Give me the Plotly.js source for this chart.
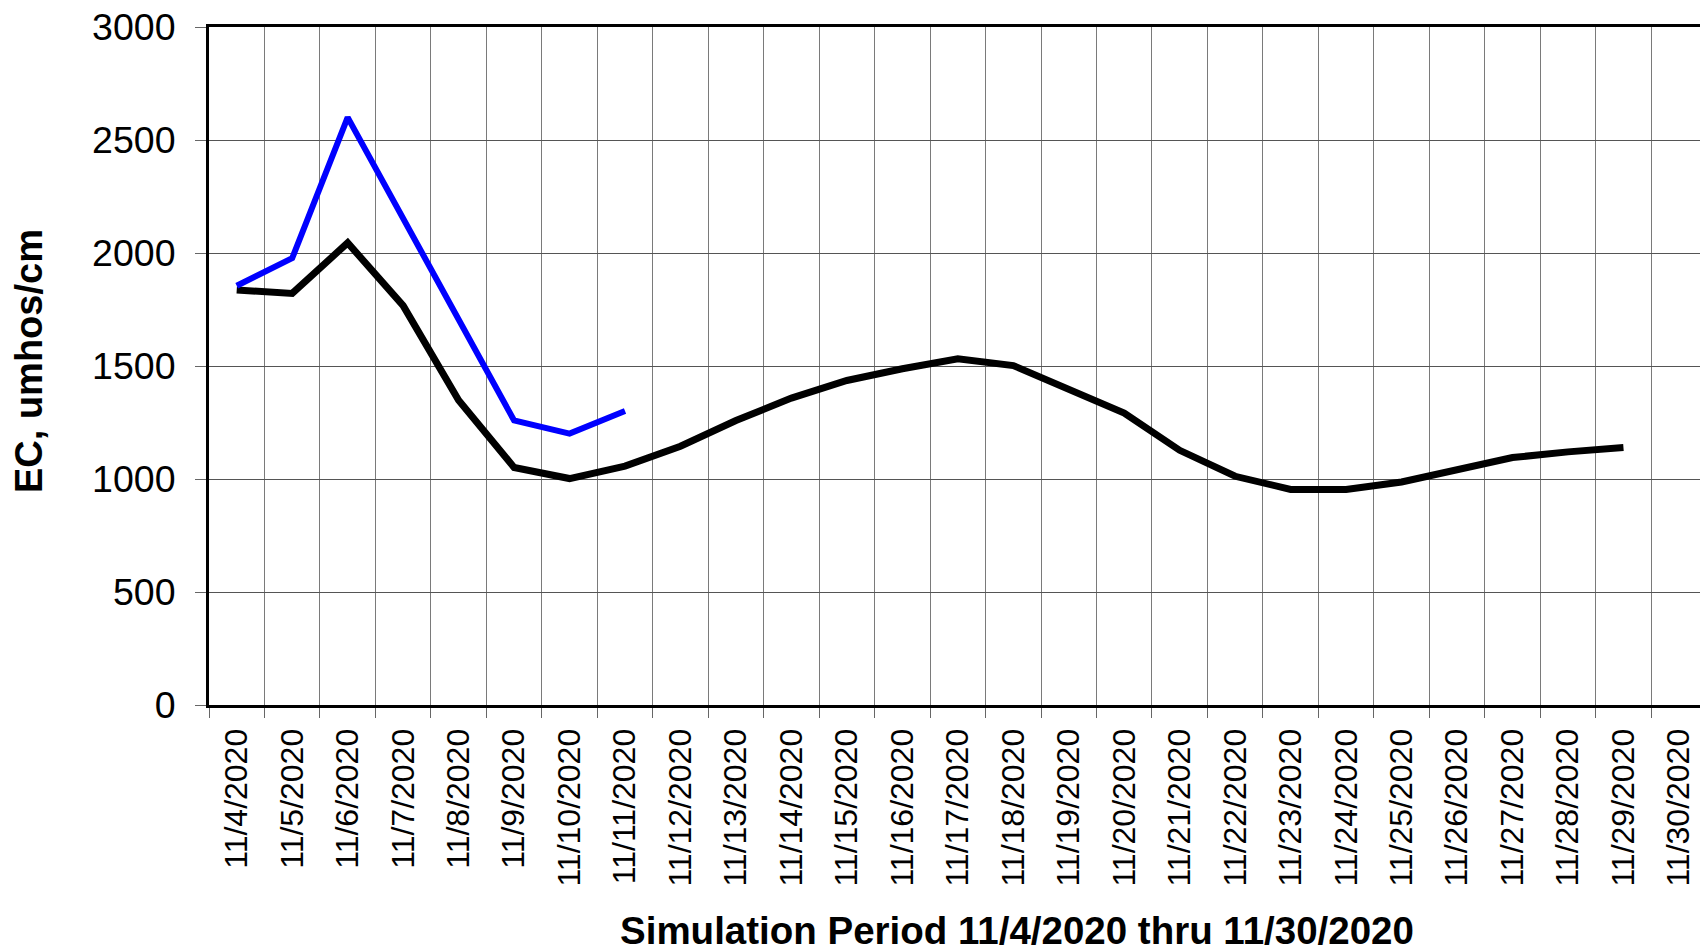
<!DOCTYPE html>
<html>
<head>
<meta charset="utf-8">
<script src="https://cdn.plot.ly/plotly-3.0.1.min.js"></script>
<style>
html, body { margin: 0; padding: 0; background: #fff; overflow: hidden; }
#chart { width: 1700px; height: 951px; }
</style>
</head>
<body>
<div id="chart"></div>
<script>
const dates = ["11/4/2020","11/5/2020","11/6/2020","11/7/2020","11/8/2020","11/9/2020","11/10/2020",
  "11/11/2020","11/12/2020","11/13/2020","11/14/2020","11/15/2020","11/16/2020","11/17/2020",
  "11/18/2020","11/19/2020","11/20/2020","11/21/2020","11/22/2020","11/23/2020","11/24/2020",
  "11/25/2020","11/26/2020","11/27/2020","11/28/2020","11/29/2020","11/30/2020"];
const blueEC = [1855, 1977, 2600, 2150, 1705, 1259, 1201, 1301,
  null, null, null, null, null, null, null, null, null, null, null, null, null, null, null, null, null, null, null];
const blackEC = [1836, 1821, 2045, 1767, 1348, 1051, 1002, 1057, 1145, 1259, 1358, 1436, 1488, 1532,
  1502, 1399, 1292, 1127, 1012, 954, 954, 987, 1039, 1095, 1120, 1139, null];
const yTicks = [0, 500, 1000, 1500, 2000, 2500, 3000];
const xTitle = "Simulation Period 11/4/2020 thru 11/30/2020";
const yTitle = "EC, umhos/cm";

const font = "Liberation Sans, Arial, sans-serif";
const traces = [
  { x: dates, y: blackEC, type: "scatter", mode: "lines", line: { color: "#000000", width: 7 }, connectgaps: false, showlegend: false },
  { x: dates, y: blueEC, type: "scatter", mode: "lines", line: { color: "#0000ff", width: 6 }, connectgaps: false, showlegend: false }
];
const layout = {
  width: 1700, height: 951,
  margin: { l: 209, r: 0, t: 27, b: 246 },
  paper_bgcolor: "#ffffff", plot_bgcolor: "#ffffff",
  font: { family: font, color: "#000000" },
  showlegend: false,
  xaxis: {
    type: "category",
    range: [-0.5, 26.38],
    tickson: "boundaries",
    ticks: "outside", ticklen: 10, tickwidth: 1, tickcolor: "#666666",
    tickangle: -90,
    tickfont: { family: font, size: 32, color: "#000000" },
    ticklabelstandoff: 8,
    showgrid: true, gridcolor: "#7a7a7a", gridwidth: 1,
    showline: true, linecolor: "#000000", linewidth: 3, mirror: true,
    zeroline: false, fixedrange: true
  },
  yaxis: {
    range: [0, 3000],
    tickvals: yTicks,
    ticks: "outside", ticklen: 11, tickwidth: 1, tickcolor: "#666666",
    tickfont: { family: font, size: 37.5, color: "#000000" },
    ticklabelstandoff: 12,
    showgrid: true, gridcolor: "#555555", gridwidth: 1,
    showline: true, linecolor: "#000000", linewidth: 3, mirror: false,
    zeroline: false, fixedrange: true
  },
  annotations: [
    { text: "<b>" + xTitle + "</b>", xref: "paper", yref: "paper", x: (1017 - 209) / 1491, y: (705 - 930) / 678,
      xanchor: "center", yanchor: "middle", showarrow: false, font: { family: font, size: 38.5, color: "#000000" } },
    { text: "<b>" + yTitle + "</b>", xref: "paper", yref: "paper", x: (29 - 209) / 1491, y: (705 - 361) / 678,
      xanchor: "center", yanchor: "middle", textangle: -90, showarrow: false, font: { family: font, size: 38, color: "#000000" } }
  ]
};
Plotly.newPlot("chart", traces, layout, { displayModeBar: false, staticPlot: true });
</script>
</body>
</html>
